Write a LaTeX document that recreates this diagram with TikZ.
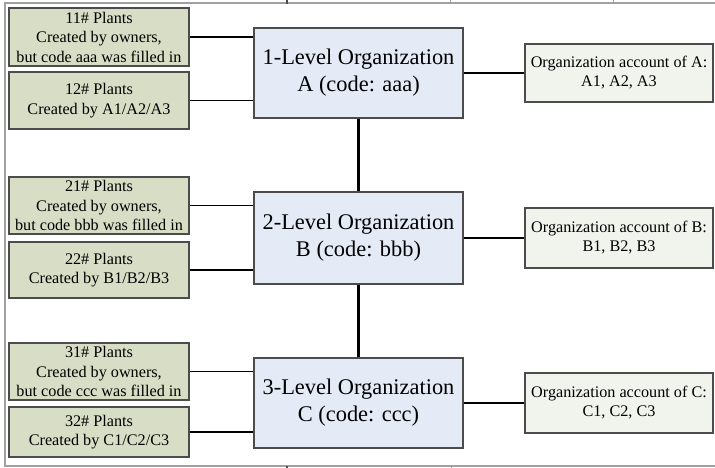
\documentclass[tikz,border=0pt]{standalone}
\usepackage{fontspec}
\setmainfont{Liberation Serif}
\usepackage{tikz}

\definecolor{plantfill}{RGB}{216,221,197}
\definecolor{orgfill}{RGB}{228,234,246}
\definecolor{acctfill}{RGB}{241,244,237}
\definecolor{framegray}{RGB}{160,160,160}

\tikzset{
	plant/.style={draw=black!70, line width=1.3pt, fill=plantfill, minimum width=180pt, minimum height=57pt, inner sep=0pt, align=center, font=\fontsize{16.2}{19.5}\selectfont},
	org/.style={draw=black!70, line width=1.2pt, fill=orgfill, minimum width=209pt, minimum height=90pt, inner sep=0pt, align=center, font=\fontsize{22.4}{27}\selectfont},
	acct/.style={draw=black!70, line width=1.2pt, fill=acctfill, minimum width=188pt, minimum height=58pt, inner sep=0pt, align=center, font=\fontsize{16.2}{19}\selectfont},
	link/.style={line width=1.6pt},
	levellink/.style={line width=3pt}
}

\begin{document}
\begin{tikzpicture}[x=1pt, y=-1pt]

	\useasboundingbox (0,0) rectangle (715,468);

	% frame
	\draw[framegray, line width=1.2pt] (715,3) -- (5,3) -- (5,466) -- (715,466);
	\draw[black!70, line width=2pt] (287,0) -- (287,4);
	\draw[framegray, line width=0.6pt] (450,0) -- (450,4);
	\draw[framegray, line width=0.6pt] (613,0) -- (613,4);
	\draw[black!70, line width=2pt] (287,466) -- (287,468);
	\draw[framegray, line width=0.6pt] (451,466) -- (451,468);

	% level A
	\node[plant, minimum height=58pt] (p11) at (99,37) {11\# Plants\\Created by owners,\\but code aaa was filled in};
	\node[plant] (p12) at (99,100.5) {12\# Plants\\Created by A1/A2/A3};
	\node[org] (orgA) at (358.5,73) {1-Level Organization\\A (code: aaa)};
	\node[acct] (accA) at (619,73) {Organization account of A:\\A1, A2, A3};

	% level B
	\node[plant] (p21) at (99,205.5) {21\# Plants\\Created by owners,\\but code bbb was filled in};
	\node[plant, minimum height=56pt] (p22) at (99,270) {22\# Plants\\Created by B1/B2/B3};
	\node[org, minimum height=92pt] (orgB) at (358.5,238) {2-Level Organization\\B (code: bbb)};
	\node[acct, minimum height=60pt] (accB) at (619,238) {Organization account of B:\\B1, B2, B3};

	% level C
	\node[plant] (p31) at (99,371.5) {31\# Plants\\Created by owners,\\but code ccc was filled in};
	\node[plant, minimum height=50pt] (p32) at (99,432) {32\# Plants\\Created by C1/C2/C3};
	\node[org] (orgC) at (358.5,403) {3-Level Organization\\C (code: ccc)};
	\node[acct, minimum height=60pt] (accC) at (619,403) {Organization account of C:\\C1, C2, C3};

	% connectors
	\draw[link] (p11.east) -- (p11.east -| orgA.west);
	\draw[link] (p12.east) -- (p12.east -| orgA.west);
	\draw[link] (p21.east) -- (p21.east -| orgB.west);
	\draw[link] (p22.east) -- (p22.east -| orgB.west);
	\draw[link] (p31.east) -- (p31.east -| orgC.west);
	\draw[link] (p32.east) -- (p32.east -| orgC.west);
	\draw[link] (orgA) -- (accA);
	\draw[link] (orgB) -- (accB);
	\draw[link] (orgC) -- (accC);
	\draw[levellink] (orgA) -- (orgB);
	\draw[levellink] (orgB) -- (orgC);

\end{tikzpicture}
\end{document}
